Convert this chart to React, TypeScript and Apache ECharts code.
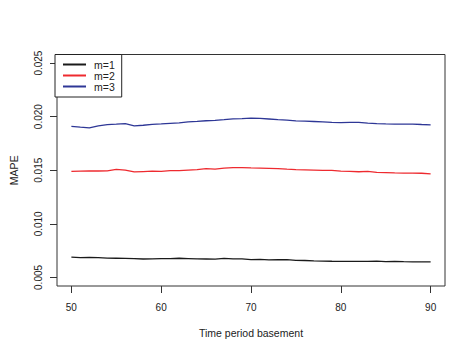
import React, { useEffect, useRef } from "react";
import * as echarts from "echarts";

const xValues = [
  50, 51, 52, 53, 54, 55, 56, 57, 58, 59, 60, 61, 62, 63, 64, 65, 66, 67, 68, 69, 70,
  71, 72, 73, 74, 75, 76, 77, 78, 79, 80, 81, 82, 83, 84, 85, 86, 87, 88, 89, 90,
];

const m1 = [
  0.0069, 0.00684, 0.00686, 0.00684, 0.0068, 0.00679, 0.00678, 0.00676, 0.00672, 0.00673,
  0.00676, 0.00675, 0.00679, 0.00676, 0.00673, 0.00672, 0.0067, 0.00678, 0.00674, 0.00673,
  0.00666, 0.00668, 0.00663, 0.00665, 0.00666, 0.0066, 0.00658, 0.00655, 0.00653, 0.00651,
  0.0065, 0.0065, 0.0065, 0.0065, 0.00652, 0.00648, 0.00649, 0.00647, 0.00646, 0.00645, 0.00645,
];

const m2 = [
  0.0149, 0.01492, 0.01493, 0.01493, 0.01495, 0.01508, 0.01502, 0.01484, 0.01488, 0.01492,
  0.0149, 0.01496, 0.01496, 0.01502, 0.01505, 0.01515, 0.0151, 0.0152, 0.01524, 0.01525,
  0.01522, 0.0152, 0.01518, 0.01515, 0.0151, 0.01506, 0.01504, 0.01502, 0.01498, 0.01498,
  0.01492, 0.0149, 0.01486, 0.0149, 0.0148, 0.01478, 0.01475, 0.01474, 0.01473, 0.01472, 0.01466,
];

const m3 = [
  0.0191, 0.01902, 0.01895, 0.01915, 0.01926, 0.0193, 0.01935, 0.01914, 0.0192, 0.01928,
  0.01932, 0.01938, 0.01942, 0.01951, 0.01956, 0.01962, 0.01965, 0.01972, 0.0198, 0.01982,
  0.01986, 0.01984, 0.01978, 0.01972, 0.01968, 0.0196, 0.01958, 0.01955, 0.01952, 0.01947,
  0.01945, 0.01947, 0.01946, 0.0194, 0.01935, 0.01932, 0.0193, 0.0193, 0.01931, 0.01927, 0.01924,
];

const xTicks = [50, 60, 70, 80, 90];
const yTicks = [0.005, 0.01, 0.015, 0.02, 0.025];
const yTickLabels = ["0.005", "0.010", "0.015", "0.020", "0.025"];

const seriesNames = ["m=1", "m=2", "m=3"];
const seriesColors = ["#1a1a1a", "#ee2a2f", "#2e3796"];

const FONT = "Liberation Sans, Arial, sans-serif";

export default function App() {
  const ref = useRef<HTMLDivElement>(null);

  useEffect(() => {
    if (!ref.current) return;
    const chart = echarts.init(ref.current, null, { renderer: "svg" });
    const allSeries = [m1, m2, m3];
    chart.setOption({
      animation: false,
      backgroundColor: "#fff",
      grid: {
        left: 55,
        top: 54.5,
        right: 28,
        bottom: 68,
        show: true,
        borderColor: "#333",
        borderWidth: 1,
        backgroundColor: "transparent",
      },
      legend: {
        show: true,
        orient: "vertical",
        left: 55,
        top: 54.5,
        padding: [4.5, 7, 5, 8],
        itemGap: 0,
        itemWidth: 23,
        itemHeight: 2,
        icon: "rect",
        backgroundColor: "#fff",
        borderColor: "#222",
        borderWidth: 1,
        borderRadius: 0,
        textStyle: {
          fontFamily: FONT,
          fontSize: 10.5,
          lineHeight: 11,
          color: "#222",
          padding: [0, 0, 0, 3],
        },
        data: seriesNames,
      },
      xAxis: {
        type: "value",
        min: 48.4,
        max: 91.6,
        name: "Time period basement",
        nameLocation: "middle",
        nameGap: 41,
        nameTextStyle: { fontFamily: FONT, fontSize: 10.5, color: "#222" },
        axisLine: { show: false },
        splitLine: { show: false },
        axisTick: {
          show: true,
          length: 7,
          inside: false,
          customValues: xTicks,
          lineStyle: { color: "#333", width: 1 },
        },
        axisLabel: {
          customValues: xTicks,
          margin: 16,
          fontFamily: FONT,
          fontSize: 10,
          color: "#222",
        },
      },
      yAxis: {
        type: "value",
        min: 0.0042,
        max: 0.0258,
        name: "MAPE",
        nameLocation: "middle",
        nameGap: 38,
        nameRotate: 90,
        nameTextStyle: { fontFamily: FONT, fontSize: 10.5, color: "#222" },
        axisLine: { show: false },
        splitLine: { show: false },
        axisTick: {
          show: true,
          length: 7,
          customValues: yTicks,
          lineStyle: { color: "#333", width: 1 },
        },
        axisLabel: {
          customValues: yTicks,
          rotate: 90,
          margin: 14,
          fontFamily: FONT,
          fontSize: 10,
          color: "#222",
          formatter: (v: number) => {
            const i = yTicks.findIndex((t) => Math.abs(t - v) < 1e-9);
            return i >= 0 ? yTickLabels[i] : "";
          },
        },
      },
      series: allSeries.map((vals, i) => ({
        name: seriesNames[i],
        type: "line",
        data: xValues.map((x, j) => [x, vals[j]]),
        showSymbol: false,
        symbol: "none",
        color: seriesColors[i],
        lineStyle: { color: seriesColors[i], width: 1.3 },
      })),
    });
    return () => chart.dispose();
  }, []);

  return (
    <div
      ref={ref}
      style={{ position: "fixed", left: 0, top: 0, width: 473, height: 354, background: "#fff" }}
    />
  );
}
